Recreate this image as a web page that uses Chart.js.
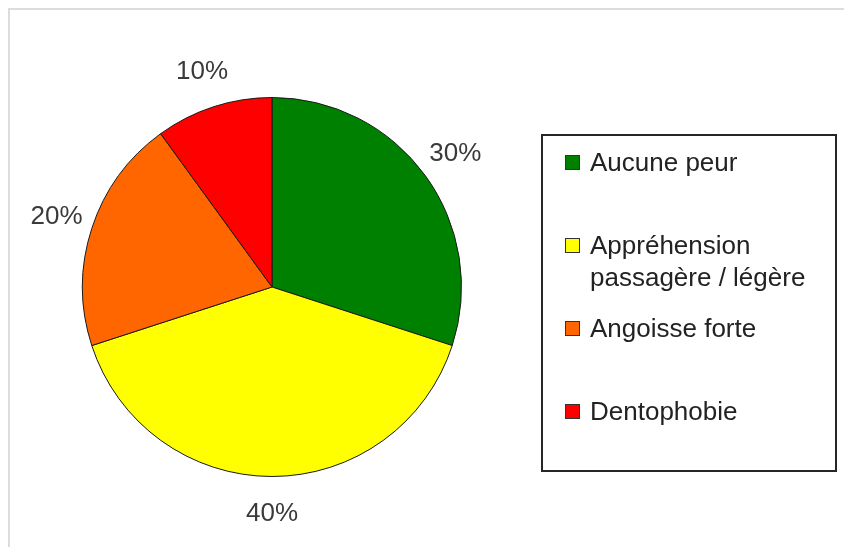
<!DOCTYPE html>
<html>
<head>
<meta charset="utf-8">
<script src="https://cdn.jsdelivr.net/npm/chart.js@4.4.1/dist/chart.umd.min.js"></script>
<style>
  html, body { margin: 0; padding: 0; background: #fff; }
  #wrap { position: relative; width: 844px; height: 547px; overflow: hidden; }
  #frame { position: absolute; left: 8px; top: 8px; right: -10px; bottom: -10px;
           border-top: 2px solid #dcdcdc; border-left: 2px solid #dcdcdc; }
  #pie { position: absolute; left: 0; top: 0; }
  #legend { position: absolute; left: 541px; top: 134px; width: 296px; height: 338px;
            box-sizing: border-box; border: 2px solid #262626;
            font-family: "Liberation Sans", Arial, sans-serif; font-size: 26px; color: #222; }
  .item { position: absolute; left: 0; line-height: 32px; }
  .sw { position: absolute; left: 22px; top: 9px; width: 13px; height: 13px;
        border: 1px solid #333; }
  .txt { position: absolute; left: 47px; top: 0; white-space: nowrap; }
</style>
</head>
<body>
<div id="wrap">
  <div id="frame"></div>
  <canvas id="pie" width="844" height="547"></canvas>
  <div id="legend"></div>
</div>
<script>
const labels = ['Aucune peur', ['Appréhension', 'passagère / légère'], 'Angoisse forte', 'Dentophobie'];
const values = [30, 40, 20, 10];
const colors = ['#008000', '#ffff00', '#ff6600', '#ff0000'];

// étiquettes de pourcentage autour du camembert
const pctLabels = {
  id: 'pctLabels',
  afterDatasetsDraw(chart) {
    const ctx = chart.ctx;
    const meta = chart.getDatasetMeta(0);
    ctx.save();
    ctx.font = '26px "Liberation Sans", Arial, sans-serif';
    ctx.fillStyle = '#3a3a3a';
    ctx.textAlign = 'center';
    ctx.textBaseline = 'middle';
    meta.data.forEach((arc, i) => {
      const p = arc.getProps(['x', 'y', 'startAngle', 'endAngle', 'outerRadius'], true);
      const mid = (p.startAngle + p.endAngle) / 2;
      const r = p.outerRadius + 37;
      ctx.fillText(values[i] + '%', p.x + Math.cos(mid) * r, p.y + Math.sin(mid) * r);
    });
    ctx.restore();
  }
};

new Chart(document.getElementById('pie'), {
  type: 'pie',
  data: {
    labels: labels,
    datasets: [{
      data: values,
      backgroundColor: colors,
      borderColor: '#1a1a1a',
      borderWidth: 1
    }]
  },
  options: {
    responsive: false,
    animation: false,
    layout: { padding: { left: 82, right: 382, top: 97, bottom: 70 } },
    plugins: { legend: { display: false }, tooltip: { enabled: false } }
  },
  plugins: [pctLabels]
});

// légende dessinée à part
const legend = document.getElementById('legend');
labels.forEach((lab, i) => {
  const item = document.createElement('div');
  item.className = 'item';
  item.style.top = (10 + i * 83) + 'px';
  const sw = document.createElement('div');
  sw.className = 'sw';
  sw.style.background = colors[i];
  const txt = document.createElement('div');
  txt.className = 'txt';
  txt.innerHTML = Array.isArray(lab) ? lab.join('<br>') : lab;
  item.appendChild(sw);
  item.appendChild(txt);
  legend.appendChild(item);
});
</script>
</body>
</html>
